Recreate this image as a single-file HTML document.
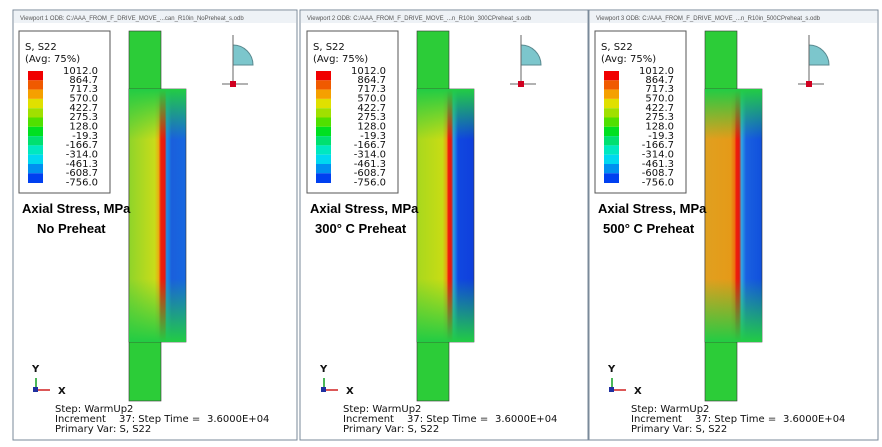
<!DOCTYPE html>
<html><head><style>
body{margin:0;background:#fff;width:882px;height:447px;overflow:hidden}
svg{display:block}
.t{font-family:"DejaVu Sans","Liberation Sans",sans-serif;font-size:10px;fill:#111}
.b{font-family:"Liberation Sans",sans-serif;font-size:13px;font-weight:bold;fill:#000}
</style></head><body>
<svg width="882" height="447" viewBox="0 0 882 447">
<defs>
<linearGradient id="hA" x1="0" x2="1"><stop offset="0" stop-color="#8fd42a"/><stop offset="0.45" stop-color="#c8dc1a"/><stop offset="0.52" stop-color="#e8b010"/><stop offset="0.56" stop-color="#f01e0a"/><stop offset="0.63" stop-color="#e51a10"/><stop offset="0.66" stop-color="#1e8ee6"/><stop offset="0.75" stop-color="#1a5fdc"/><stop offset="1" stop-color="#1768e0"/></linearGradient>
<linearGradient id="hB" x1="0" x2="1"><stop offset="0" stop-color="#a8d81e"/><stop offset="0.45" stop-color="#c8dc14"/><stop offset="0.52" stop-color="#e8a012"/><stop offset="0.55" stop-color="#ef1c0c"/><stop offset="0.6" stop-color="#e21a10"/><stop offset="0.64" stop-color="#2aa0e8"/><stop offset="0.72" stop-color="#1048e0"/><stop offset="1" stop-color="#0f3fdc"/></linearGradient>
<linearGradient id="hC" x1="0" x2="1"><stop offset="0" stop-color="#e0a020"/><stop offset="0.45" stop-color="#e59a18"/><stop offset="0.52" stop-color="#ee7010"/><stop offset="0.55" stop-color="#ef1c0c"/><stop offset="0.6" stop-color="#e21a10"/><stop offset="0.64" stop-color="#30a8e8"/><stop offset="0.72" stop-color="#1a60e0"/><stop offset="1" stop-color="#1050dc"/></linearGradient>
<linearGradient id="v" x1="0" y1="0" x2="0" y2="1"><stop offset="0" stop-color="#22cc44" stop-opacity="1"/><stop offset="0.2" stop-color="#22cc44" stop-opacity="0"/><stop offset="0.75" stop-color="#22cc44" stop-opacity="0"/><stop offset="1" stop-color="#22cc44" stop-opacity="1"/></linearGradient>
<g id="leg">
<rect x="19" y="31" width="91" height="162" fill="#fff" stroke="#555"/>
<text class="t" x="25" y="50">S, S22</text>
<text class="t" x="25" y="62">(Avg: 75%)</text>
<rect x="28" y="71" width="15" height="9.3" fill="#f00000"/><rect x="28" y="80.3" width="15" height="9.3" fill="#f05a00"/><rect x="28" y="89.6" width="15" height="9.3" fill="#f5a000"/><rect x="28" y="98.9" width="15" height="9.3" fill="#e0e000"/><rect x="28" y="108.2" width="15" height="9.3" fill="#a0e000"/><rect x="28" y="117.5" width="15" height="9.3" fill="#50e000"/><rect x="28" y="126.8" width="15" height="9.3" fill="#00e020"/><rect x="28" y="136.1" width="15" height="9.3" fill="#00e070"/><rect x="28" y="145.4" width="15" height="9.3" fill="#00e8c0"/><rect x="28" y="154.7" width="15" height="9.3" fill="#00d8f0"/><rect x="28" y="164" width="15" height="9.3" fill="#0090f0"/><rect x="28" y="173.3" width="15" height="9.7" fill="#0040f0"/>
<g class="t" text-anchor="end"><text x="98" y="74">1012.0</text><text x="98" y="83">864.7</text><text x="98" y="92">717.3</text><text x="98" y="101.5">570.0</text><text x="98" y="111">422.7</text><text x="98" y="120">275.3</text><text x="98" y="129.5">128.0</text><text x="98" y="139">-19.3</text><text x="98" y="148">-166.7</text><text x="98" y="157.5">-314.0</text><text x="98" y="167">-461.3</text><text x="98" y="176">-608.7</text><text x="98" y="185.5">-756.0</text></g>
<path d="M233 45 A20 20 0 0 1 253 65 L233 65Z" fill="#7cc6cc" stroke="#5a8a90"/>
<line x1="233" y1="35" x2="233" y2="84" stroke="#666"/><line x1="222" y1="84" x2="248" y2="84" stroke="#666"/><rect x="230" y="81" width="6" height="6" fill="#d00020"/>
<line x1="36" y1="390" x2="36" y2="378" stroke="#10a020" stroke-width="1.5"/><line x1="36" y1="390" x2="50" y2="390" stroke="#d02020" stroke-width="1.5"/><rect x="33" y="387" width="5" height="5" fill="#2030a0"/>
<text class="t" x="32" y="372" font-weight="bold" font-size="9">Y</text><text class="t" x="58" y="394" font-weight="bold">X</text>
<text class="t" x="55" y="412">Step: WarmUp2</text><text class="t" x="55" y="422">Increment</text><text class="t" x="119" y="422">37: Step Time =</text><text class="t" x="207" y="422">3.6000E+04</text><text class="t" x="55" y="432">Primary Var: S, S22</text>
</g>
</defs>
<rect x="13" y="10" width="284" height="430" fill="#fff" stroke="#7a8a9a"/>
<rect x="14" y="11" width="282" height="12" fill="#eef2f6"/>
<text x="20" y="20" font-family="Liberation Sans" font-size="6" fill="#555">Viewport 1   ODB: C:/AAA_FROM_F_DRIVE_MOVE_...can_R10in_NoPreheat_s.odb</text>
<use href="#leg"/>
<rect x="129" y="31" width="32" height="370" fill="#2ccc38" stroke="#333" stroke-width="0.6"/>
<rect x="129" y="89" width="57" height="253" fill="url(#hA)" stroke="#333" stroke-width="0.6"/>
<rect x="129" y="89" width="57" height="253" fill="url(#v)"/>
<text class="b" x="22" y="213">Axial Stress, MPa</text><text class="b" x="37" y="233">No Preheat</text>
<rect x="300" y="10" width="288" height="430" fill="#fff" stroke="#7a8a9a"/>
<rect x="301" y="11" width="286" height="12" fill="#eef2f6"/>
<text x="307" y="20" font-family="Liberation Sans" font-size="6" fill="#555">Viewport 2   ODB: C:/AAA_FROM_F_DRIVE_MOVE_...n_R10in_300CPreheat_s.odb</text>
<g transform="translate(288,0)"><use href="#leg"/>
<rect x="129" y="31" width="32" height="370" fill="#2ccc38" stroke="#333" stroke-width="0.6"/>
<rect x="129" y="89" width="57" height="253" fill="url(#hB)" stroke="#333" stroke-width="0.6"/>
<rect x="129" y="89" width="57" height="253" fill="url(#v)"/>
<text class="b" x="22" y="213">Axial Stress, MPa</text><text class="b" x="27" y="233">300° C Preheat</text></g>
<rect x="589" y="10" width="289" height="430" fill="#fff" stroke="#7a8a9a"/>
<rect x="590" y="11" width="287" height="12" fill="#eef2f6"/>
<text x="596" y="20" font-family="Liberation Sans" font-size="6" fill="#555">Viewport 3   ODB: C:/AAA_FROM_F_DRIVE_MOVE_...n_R10in_500CPreheat_s.odb</text>
<g transform="translate(576,0)"><use href="#leg"/>
<rect x="129" y="31" width="32" height="370" fill="#2ccc38" stroke="#333" stroke-width="0.6"/>
<rect x="129" y="89" width="57" height="253" fill="url(#hC)" stroke="#333" stroke-width="0.6"/>
<rect x="129" y="89" width="57" height="253" fill="url(#v)"/>
<text class="b" x="22" y="213">Axial Stress, MPa</text><text class="b" x="27" y="233">500° C Preheat</text></g>
</svg>
</body></html>
